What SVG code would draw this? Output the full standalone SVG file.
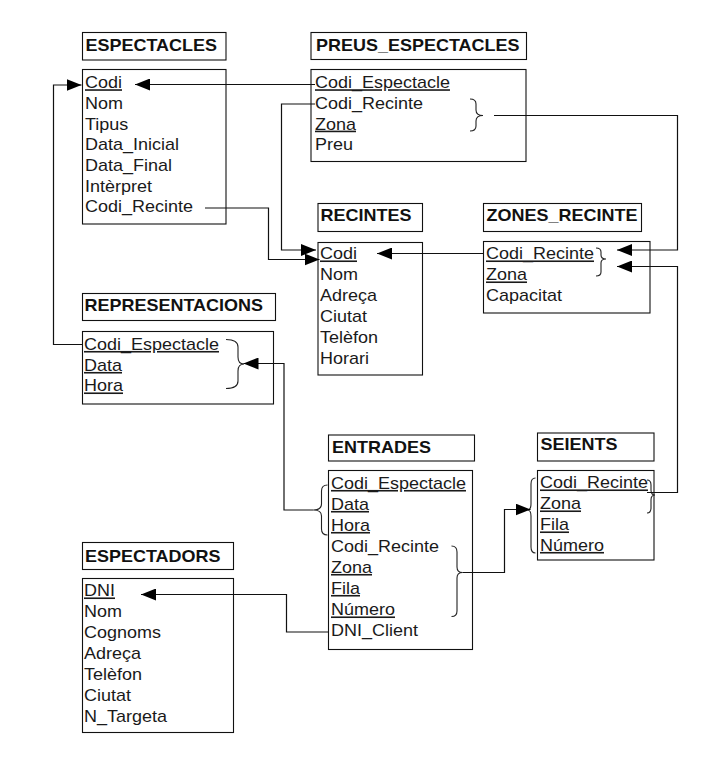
<svg xmlns="http://www.w3.org/2000/svg" width="705" height="777" viewBox="0 0 705 777">
  <style>
    .box { fill: none; stroke: #111; stroke-width: 1.1; }
    .title { font-family: "Liberation Sans", Arial, sans-serif; font-size: 16px; font-weight: bold; fill: #111; }
    .fld { font-family: "Liberation Sans", Arial, sans-serif; font-size: 16px; fill: #1a1a1a; }
    .pk { text-decoration: underline; }
    .wire { fill: none; stroke: #111; stroke-width: 1.2; }
    .arrow { fill: none; stroke: #111; stroke-width: 1.2; marker-end: url(#head); }
    .brace { fill: none; stroke: #222; stroke-width: 1.1; }
  </style>
  <defs>
    <marker id="head" markerUnits="userSpaceOnUse" markerWidth="15" markerHeight="12" viewBox="0 0 15 12" refX="15" refY="6" orient="auto">
      <path d="M0,0 L15,6 L0,12 Z" fill="#000"/>
    </marker>
  </defs>
  <rect width="705" height="777" fill="#fff"/>

  <!-- ESPECTACLES -->
  <g id="espectacles">
    <rect class="box" x="82.5" y="32.5" width="143.5" height="27.5"/>
    <rect class="box" x="82.5" y="69.5" width="143.5" height="154.5"/>
    <g transform="matrix(1.125 0 0 1 85.5 0)">
      <text class="title" x="0" y="51.5">ESPECTACLES</text>
    </g>
    <g transform="matrix(1.125 0 0 1 85 0)">
      <text class="fld pk" x="0" y="88.3">Codi</text>
      <text class="fld" x="0" y="109">Nom</text>
      <text class="fld" x="0" y="129.7">Tipus</text>
      <text class="fld" x="0" y="150.4">Data_Inicial</text>
      <text class="fld" x="0" y="171.1">Data_Final</text>
      <text class="fld" x="0" y="191.8">Intèrpret</text>
      <text class="fld" x="0" y="212.5">Codi_Recinte</text>
    </g>
  </g>

  <!-- PREUS_ESPECTACLES -->
  <g id="preus_espectacles">
    <rect class="box" x="311" y="32.5" width="215.5" height="27"/>
    <rect class="box" x="311" y="69.5" width="215" height="92"/>
    <g transform="matrix(1.125 0 0 1 316 0)">
      <text class="title" x="0" y="51.5">PREUS_ESPECTACLES</text>
    </g>
    <g transform="matrix(1.125 0 0 1 315 0)">
      <text class="fld pk" x="0" y="88.3">Codi_Espectacle</text>
      <text class="fld" x="0" y="109">Codi_Recinte</text>
      <text class="fld pk" x="0" y="129.7">Zona</text>
      <text class="fld" x="0" y="150.4">Preu</text>
    </g>
    <path class="brace" d="M470,99 Q476,99 476,104 V110 Q476,115.5 483,115.5 Q476,115.5 476,121 V126 Q476,131 470,131"/>
  </g>

  <!-- RECINTES -->
  <g id="recintes">
    <rect class="box" x="318" y="203.5" width="104.5" height="28"/>
    <rect class="box" x="318" y="242.5" width="104.5" height="132.5"/>
    <g transform="matrix(1.125 0 0 1 320.5 0)">
      <text class="title" x="0" y="221">RECINTES</text>
    </g>
    <g transform="matrix(1.125 0 0 1 320 0)">
      <text class="fld pk" x="0" y="259.5">Codi</text>
      <text class="fld" x="0" y="280.5">Nom</text>
      <text class="fld" x="0" y="301.5">Adreça</text>
      <text class="fld" x="0" y="322.5">Ciutat</text>
      <text class="fld" x="0" y="343.5">Telèfon</text>
      <text class="fld" x="0" y="364.5">Horari</text>
    </g>
  </g>

  <!-- ZONES_RECINTE -->
  <g id="zones_recinte">
    <rect class="box" x="483.5" y="203.5" width="158" height="28"/>
    <rect class="box" x="483.5" y="241.5" width="166.5" height="71.5"/>
    <g transform="matrix(1.125 0 0 1 486.5 0)">
      <text class="title" x="0" y="221">ZONES_RECINTE</text>
    </g>
    <g transform="matrix(1.125 0 0 1 486 0)">
      <text class="fld pk" x="0" y="259.5">Codi_Recinte</text>
      <text class="fld pk" x="0" y="280.5">Zona</text>
      <text class="fld" x="0" y="301.5">Capacitat</text>
    </g>
    <path class="brace" d="M596,248 Q601,248 601,252 V255 Q601,259 606,259 Q601,259 601,263 V272 Q601,276 596,276"/>
  </g>

  <!-- REPRESENTACIONS -->
  <g id="representacions">
    <rect class="box" x="82.5" y="293.5" width="193" height="27"/>
    <rect class="box" x="82.5" y="331.5" width="191" height="72.5"/>
    <g transform="matrix(1.125 0 0 1 84.5 0)">
      <text class="title" x="0" y="311.5">REPRESENTACIONS</text>
    </g>
    <g transform="matrix(1.125 0 0 1 84 0)">
      <text class="fld pk" x="0" y="350">Codi_Espectacle</text>
      <text class="fld pk" x="0" y="371">Data</text>
      <text class="fld pk" x="0" y="391.5">Hora</text>
    </g>
    <path class="brace" d="M226,339.5 Q238,339.5 238,347 V357 Q238,364 244,364 Q238,364 238,371 V381 Q238,388.5 226,388.5"/>
  </g>

  <!-- ENTRADES -->
  <g id="entrades">
    <rect class="box" x="328.5" y="435" width="146" height="26"/>
    <rect class="box" x="328.5" y="470.5" width="144" height="179"/>
    <g transform="matrix(1.125 0 0 1 332 0)">
      <text class="title" x="0" y="453">ENTRADES</text>
    </g>
    <g transform="matrix(1.125 0 0 1 331 0)">
      <text class="fld pk" x="0" y="489">Codi_Espectacle</text>
      <text class="fld pk" x="0" y="510">Data</text>
      <text class="fld pk" x="0" y="531">Hora</text>
      <text class="fld" x="0" y="552">Codi_Recinte</text>
      <text class="fld pk" x="0" y="573">Zona</text>
      <text class="fld pk" x="0" y="594">Fila</text>
      <text class="fld pk" x="0" y="615.5">Número</text>
      <text class="fld" x="0" y="636.5">DNI_Client</text>
    </g>
    <path class="brace" d="M327.5,485 Q321.5,485 321.5,491 V504 Q321.5,510 313.5,510 Q321.5,510 321.5,516 V529 Q321.5,535 327.5,535"/>
    <path class="brace" d="M451.5,546 Q457,546 457,552 V567 Q457,572.5 462.5,572.5 Q457,572.5 457,578 V611 Q457,616.5 451.5,616.5"/>
  </g>

  <!-- SEIENTS -->
  <g id="seients">
    <rect class="box" x="537.5" y="433" width="116.5" height="28"/>
    <rect class="box" x="537.5" y="470.5" width="116.5" height="89.5"/>
    <g transform="matrix(1.125 0 0 1 540.5 0)">
      <text class="title" x="0" y="450.5">SEIENTS</text>
    </g>
    <g transform="matrix(1.125 0 0 1 540 0)">
      <text class="fld pk" x="0" y="488.5">Codi_Recinte</text>
      <text class="fld pk" x="0" y="509.5">Zona</text>
      <text class="fld pk" x="0" y="530.5">Fila</text>
      <text class="fld pk" x="0" y="551">Número</text>
    </g>
    <path class="brace" d="M535.5,478 Q531,478 531,484 V504 Q531,510 527.5,510 Q531,510 531,516 V547 Q531,553 535.5,553"/>
    <path class="brace" d="M647,480 Q651,480 651,485 V490 Q651,495 655,495 Q651,495 651,500 V508 Q651,513 647,513"/>
  </g>

  <!-- ESPECTADORS -->
  <g id="espectadors">
    <rect class="box" x="82.5" y="542.5" width="151" height="27"/>
    <rect class="box" x="82.5" y="578.5" width="151" height="154"/>
    <g transform="matrix(1.125 0 0 1 85 0)">
      <text class="title" x="0" y="561.5">ESPECTADORS</text>
    </g>
    <g transform="matrix(1.125 0 0 1 84 0)">
      <text class="fld pk" x="0" y="596.5">DNI</text>
      <text class="fld" x="0" y="617.3">Nom</text>
      <text class="fld" x="0" y="638">Cognoms</text>
      <text class="fld" x="0" y="659">Adreça</text>
      <text class="fld" x="0" y="680">Telèfon</text>
      <text class="fld" x="0" y="701">Ciutat</text>
      <text class="fld" x="0" y="722">N_Targeta</text>
    </g>
  </g>

  <!-- foreign-key connectors -->
  <g id="connectors">
    <!-- PREUS_ESPECTACLES.Codi_Espectacle -> ESPECTACLES.Codi -->
    <path class="arrow" d="M315,84.5 H135"/>
    <!-- REPRESENTACIONS.Codi_Espectacle -> ESPECTACLES.Codi -->
    <path class="arrow" d="M83,344.5 H53.5 V85 H81.5"/>
    <!-- ESPECTACLES.Codi_Recinte -> RECINTES.Codi -->
    <path class="arrow" d="M205,208 H268.5 V259.5 H319.5"/>
    <!-- PREUS_ESPECTACLES.Codi_Recinte -> RECINTES.Codi -->
    <path class="arrow" d="M315,104 H281.5 V250 H316"/>
    <!-- PREUS_ESPECTACLES (Codi_Recinte, Zona) -> ZONES_RECINTE -->
    <path class="arrow" d="M494,115.5 H677.5 V250 H617"/>
    <!-- ZONES_RECINTE.Codi_Recinte -> RECINTES.Codi -->
    <path class="arrow" d="M483.5,253.5 H377"/>
    <!-- SEIENTS (Codi_Recinte, Zona) -> ZONES_RECINTE -->
    <path class="arrow" d="M647,492.5 H677.5 V266.5 H617"/>
    <!-- ENTRADES (Codi_Espectacle, Data, Hora) -> REPRESENTACIONS -->
    <path class="arrow" d="M313.5,510 H284 V363.5 H243.5"/>
    <!-- ENTRADES (Codi_Recinte, Zona, Fila, Número) -> SEIENTS -->
    <path class="arrow" d="M462.5,572.5 H504.5 V509.5 H530.5"/>
    <!-- ENTRADES.DNI_Client -> ESPECTADORS.DNI -->
    <path class="arrow" d="M328.5,632 H286.5 V594.5 H141"/>
  </g>
</svg>
